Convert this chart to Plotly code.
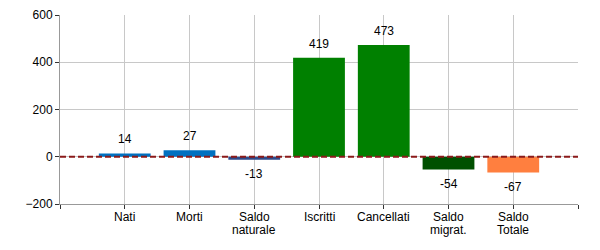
import plotly.graph_objects as go

categories = [["Nati"], ["Morti"], ["Saldo", "naturale"], ["Iscritti"], ["Cancellati"], ["Saldo", "migrat."], ["Saldo", "Totale"]]
values = [14, 27, -13, 419, 473, -54, -67]
colors = ["#0070C0", "#0070C0", "#2E4A8A", "#008000", "#008000", "#005000", "#FF7F3F"]
y_ticks = [-200, 0, 200, 400, 600]

FONT = "Liberation Sans, Arial"
xpos = list(range(1, len(categories) + 1))

fig = go.Figure()
fig.add_trace(go.Bar(x=xpos, y=values, marker=dict(color=colors, line=dict(width=0)), width=0.8, hoverinfo="skip"))

for x, v in zip(xpos, values):
    fig.add_annotation(x=x, y=v, text=str(v), showarrow=False, yshift=14 if v >= 0 else -14,
                       font=dict(family=FONT, size=12, color="#000"))

# category labels (multi-line, tighter spacing)
for x, lines in zip(xpos, categories):
    for i, line in enumerate(lines):
        fig.add_annotation(x=x, xref="x", y=0, yref="paper", text=line, showarrow=False,
                           yanchor="middle", yshift=-12.5 - 13 * i,
                           font=dict(family=FONT, size=12, color="#000"))

fig.add_shape(type="line", xref="paper", x0=0, x1=1, yref="y", y0=0, y1=0,
              line=dict(color="#8B1A1A", width=2, dash="6px,3px"), layer="above")

fig.update_layout(
    width=600, height=250,
    margin=dict(l=60, r=22, t=15, b=46, autoexpand=False),
    paper_bgcolor="white", plot_bgcolor="white",
    showlegend=False,
    font=dict(family=FONT, size=12, color="#000"),
    bargap=0.2,
)
fig.update_xaxes(range=[0, 8], tickvals=list(range(0, 9)), showticklabels=False,
                 showgrid=True, gridcolor="#C8C8C8", gridwidth=1,
                 showline=True, linecolor="#999999", linewidth=1,
                 ticks="outside", ticklen=4, tickcolor="#333", zeroline=False, automargin=False)
fig.update_yaxes(range=[-200, 600], tickvals=y_ticks,
                 showgrid=True, gridcolor="#C8C8C8", gridwidth=1,
                 showline=True, linecolor="#999999", linewidth=1,
                 ticks="outside", ticklen=4, tickcolor="#333", zeroline=False, automargin=False,
                 tickfont=dict(size=12))

fig.write_html("out.html")
